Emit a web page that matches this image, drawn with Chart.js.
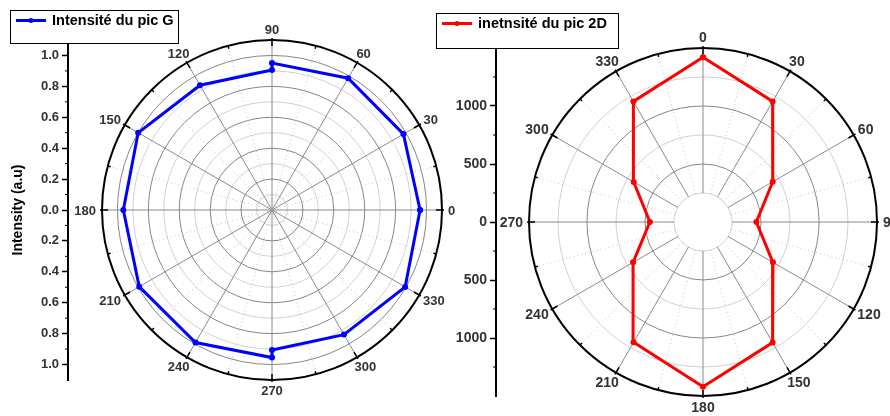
<!DOCTYPE html>
<html>
<head>
<meta charset="utf-8">
<script src="https://cdn.jsdelivr.net/npm/chart.js@4/dist/chart.umd.min.js"></script>
<style>
body{margin:0;background:#fff;}
#wrap{position:relative;width:890px;height:416px;overflow:hidden;background:#fff;}
canvas{position:absolute;top:0;}
</style>
</head>
<body>
<div id="wrap">
<canvas id="polarG" width="470" height="416" style="left:0;width:470px;height:416px"></canvas>
<canvas id="polar2D" width="460" height="416" style="left:430px;width:460px;height:416px"></canvas>
</div>
<script>
// ---- data ----
const anglesG = [0, 30, 60, 90, 90, 120, 150, 180, 210, 240, 270, 270, 300, 330, 360];
const intensityG = [0.958, 0.982, 0.985, 0.951, 0.906, 0.932, 1.0, 0.962, 0.992, 0.99, 0.955, 0.906, 0.931, 0.995, 0.958];
const angles2D = [0, 30, 60, 90, 120, 150, 180, 210, 240, 270, 300, 330, 360];
const intensity2D = [1420, 1200, 694, 460, 696, 1200, 1420, 1197, 696, 458, 690, 1200, 1420];
const angleLabels = [0, 30, 60, 90, 120, 150, 180, 210, 240, 270, 300, 330];
const tickValuesG = [-1.0, -0.8, -0.6, -0.4, -0.2, 0, 0.2, 0.4, 0.6, 0.8, 1.0];
const tickValues2D = [-1000, -500, 0, 500, 1000];

const FONT = "'Liberation Sans', Arial, sans-serif";

// polar angle -> screen angle (deg, ccw from +x)
function screenDeg(a, start, dir){ return start + dir * a; }
function toXY(angles, values, start, dir){
  return angles.map((a, i) => {
    const p = screenDeg(a, start, dir) * Math.PI / 180;
    return {x: values[i] * Math.cos(p), y: values[i] * Math.sin(p)};
  });
}

const polarGrid = {
  id: 'polarGrid',
  beforeDatasetsDraw(chart, args, o){
    const ctx = chart.ctx, xs = chart.scales.x, ys = chart.scales.y;
    const cx = xs.getPixelForValue(0), cy = ys.getPixelForValue(0);
    const px = v => cy - ys.getPixelForValue(v);
    const R = px(o.max), r0 = px(o.hole);
    ctx.save();
    // rings
    for (let k = 1; k * o.ring < o.max - 1e-9; k++){
      ctx.beginPath();
      ctx.arc(cx, cy, px(k * o.ring), 0, Math.PI * 2);
      ctx.strokeStyle = k % 2 === 0 ? '#858585' : '#d0d0d0';
      ctx.lineWidth = 1;
      ctx.stroke();
    }
    // dotted minor spokes
    ctx.setLineDash([1, 3]);
    ctx.strokeStyle = '#c4c4c4';
    for (let a = 15; a < 360; a += 30){
      const p = screenDeg(a, o.start, o.dir) * Math.PI / 180;
      ctx.beginPath();
      ctx.moveTo(cx + Math.cos(p) * r0, cy - Math.sin(p) * r0);
      ctx.lineTo(cx + Math.cos(p) * R, cy - Math.sin(p) * R);
      ctx.stroke();
    }
    ctx.setLineDash([]);
    // main spokes
    ctx.strokeStyle = '#8a8a8a';
    for (let a = 0; a < 360; a += 30){
      const p = screenDeg(a, o.start, o.dir) * Math.PI / 180;
      ctx.beginPath();
      ctx.moveTo(cx + Math.cos(p) * r0, cy - Math.sin(p) * r0);
      ctx.lineTo(cx + Math.cos(p) * R, cy - Math.sin(p) * R);
      ctx.stroke();
    }
    // outer circle
    ctx.beginPath();
    ctx.arc(cx, cy, R, 0, Math.PI * 2);
    ctx.strokeStyle = '#000';
    ctx.lineWidth = 2;
    ctx.stroke();
    // angular ticks
    ctx.lineWidth = 1.5;
    for (let a = 0; a < 360; a += 15){
      const p = screenDeg(a, o.start, o.dir) * Math.PI / 180;
      const major = a % 30 === 0;
      const r1 = major ? R - 6 : R - 3, r2 = major ? R + 2 : R;
      ctx.beginPath();
      ctx.moveTo(cx + Math.cos(p) * r1, cy - Math.sin(p) * r1);
      ctx.lineTo(cx + Math.cos(p) * r2, cy - Math.sin(p) * r2);
      ctx.stroke();
    }
    // minor ticks on radial axis
    const ax = chart.chartArea.left;
    ctx.lineWidth = 1;
    for (let k = 1; k * o.ring < o.max - 1e-9; k += 2){
      [1, -1].forEach(s => {
        const y = ys.getPixelForValue(s * k * o.ring);
        ctx.beginPath();
        ctx.moveTo(ax - 3, y);
        ctx.lineTo(ax, y);
        ctx.stroke();
      });
    }
    ctx.restore();
  },
  afterDraw(chart, args, o){
    const ctx = chart.ctx, xs = chart.scales.x, ys = chart.scales.y;
    const cx = xs.getPixelForValue(0), cy = ys.getPixelForValue(0);
    const R = cy - ys.getPixelForValue(o.max);
    ctx.save();
    // angle labels
    ctx.font = 'bold ' + o.fontSize + 'px ' + FONT;
    ctx.fillStyle = '#333';
    ctx.textAlign = 'center';
    ctx.textBaseline = 'middle';
    angleLabels.forEach(a => {
      const p = screenDeg(a, o.start, o.dir) * Math.PI / 180;
      const t = String(a);
      const w = ctx.measureText(t).width, h = o.fontSize * 0.75;
      const c = Math.cos(p), s = Math.sin(p);
      const x = cx + c * (R + 6) + c * w / 2;
      const y = cy - s * (R + 6) - s * h / 2 + 1;
      ctx.fillText(t, x, y);
    });
    // legend box
    const b = o.legend.box;
    ctx.fillStyle = '#fff';
    ctx.fillRect(b[0], b[1], b[2], b[3]);
    ctx.strokeStyle = '#000';
    ctx.lineWidth = 1;
    ctx.strokeRect(b[0] + 0.5, b[1] + 0.5, b[2], b[3]);
    const ly = b[1] + 10.5;
    ctx.strokeStyle = o.legend.color;
    ctx.fillStyle = o.legend.color;
    ctx.lineWidth = 3;
    ctx.beginPath();
    ctx.moveTo(b[0] + 6, ly);
    ctx.lineTo(b[0] + 36, ly);
    ctx.stroke();
    ctx.beginPath();
    ctx.arc(b[0] + 21, ly, 2.5, 0, Math.PI * 2);
    ctx.fill();
    ctx.fillStyle = '#000';
    ctx.font = 'bold 14.5px ' + FONT;
    ctx.textAlign = 'left';
    ctx.fillText(o.legend.text, b[0] + 42, ly);
    // axis title
    if (o.title){
      ctx.save();
      ctx.translate(18, cy);
      ctx.rotate(-Math.PI / 2);
      ctx.textAlign = 'center';
      ctx.font = 'bold 14px ' + FONT;
      ctx.fillText(o.title, 0, 0);
      ctx.restore();
    }
    ctx.restore();
  }
};

function yAxis(min, max, ticks, width, size, digits){
  return {
    min: min, max: max,
    afterBuildTicks: s => { s.ticks = ticks.map(v => ({value: v})); },
    afterFit: s => { s.width = width; },
    border: {display: true, color: '#000', width: 2},
    grid: {drawOnChartArea: false, tickLength: 6, color: '#000', tickWidth: 1.5},
    ticks: {
      font: {family: FONT, size: size, weight: 'bold'},
      color: '#333', padding: 3,
      callback: v => Math.abs(v).toFixed(digits)
    }
  };
}

// left chart: 0 deg at right, counter-clockwise
const ppuG = (380 - 40) / 2.2;
new Chart(document.getElementById('polarG'), {
  type: 'scatter',
  data: {
    datasets: [{
      label: 'Intensité du pic G',
      data: toXY(anglesG, intensityG, 0, 1),
      showLine: true,
      borderColor: '#0000ff',
      backgroundColor: '#0000ff',
      borderWidth: 3,
      pointRadius: 3,
      pointBorderWidth: 0,
      pointHoverRadius: 3,
      tension: 0
    }]
  },
  options: {
    responsive: false,
    animation: false,
    devicePixelRatio: 1,
    layout: {padding: {top: 40, bottom: 36, left: 0, right: 28}},
    scales: {
      x: {display: false, min: -(272 - 68) / ppuG, max: 1.1},
      y: yAxis(-1.1, 1.1, tickValuesG, 68, 13, 1)
    },
    plugins: {
      legend: {display: false},
      tooltip: {enabled: false},
      polarGrid: {
        max: 1.1, ring: 0.1, hole: 0, start: 0, dir: 1, fontSize: 13,
        legend: {text: 'Intensité du pic G', color: '#0000ff', box: [10, 10, 168, 33]},
        title: 'Intensity (a.u)'
      }
    }
  },
  plugins: [polarGrid]
});

// right chart: 0 deg at top, clockwise
const ppu2D = (396 - 48) / 3000;
new Chart(document.getElementById('polar2D'), {
  type: 'scatter',
  data: {
    datasets: [{
      label: 'inetnsité du pic 2D',
      data: toXY(angles2D, intensity2D, 90, -1),
      showLine: true,
      borderColor: '#ff0000',
      backgroundColor: '#ff0000',
      borderWidth: 3,
      pointRadius: 3,
      pointBorderWidth: 0,
      pointHoverRadius: 3,
      tension: 0
    }]
  },
  options: {
    responsive: false,
    animation: false,
    devicePixelRatio: 1,
    layout: {padding: {top: 48, bottom: 20, left: 0, right: 13}},
    scales: {
      x: {display: false, min: -(273 - 66) / ppu2D, max: 1500},
      y: yAxis(-1500, 1500, tickValues2D, 66, 14, 0)
    },
    plugins: {
      legend: {display: false},
      tooltip: {enabled: false},
      polarGrid: {
        max: 1500, ring: 250, hole: 250, start: 90, dir: -1, fontSize: 14,
        legend: {text: 'inetnsité du pic 2D', color: '#ff0000', box: [6, 13, 182, 35]},
        title: ''
      }
    }
  },
  plugins: [polarGrid]
});
</script>
</body>
</html>
